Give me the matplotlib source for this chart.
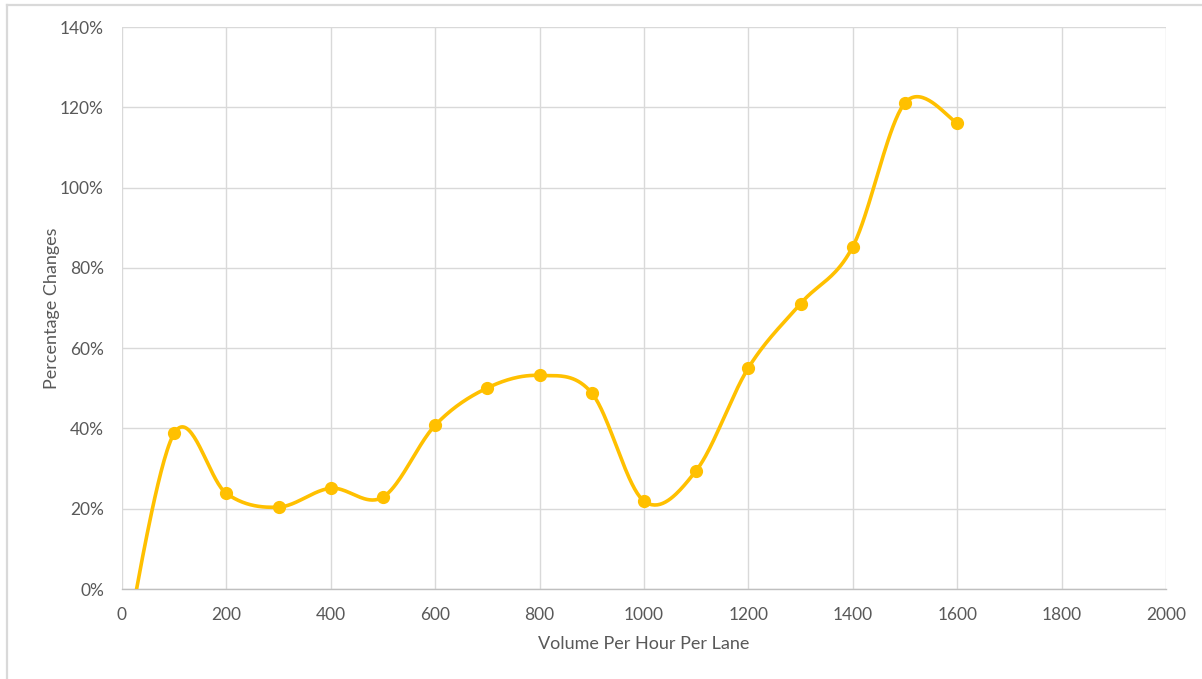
import numpy as np
import matplotlib
matplotlib.use("Agg")
import matplotlib.pyplot as plt
from matplotlib.lines import Line2D

# Percentage change by traffic volume
volume = [0, 100, 200, 300, 400, 500, 600, 700, 800, 900, 1000,
          1100, 1200, 1300, 1400, 1500, 1600]
pct_change = [-0.19, 0.388, 0.238, 0.204, 0.251, 0.229, 0.408, 0.501, 0.532,
              0.488, 0.219, 0.295, 0.551, 0.711, 0.853, 1.211, 1.161]

x_ticks = [0, 200, 400, 600, 800, 1000, 1200, 1400, 1600, 1800, 2000]
y_ticks = [0.0, 0.2, 0.4, 0.6, 0.8, 1.0, 1.2, 1.4]

LINE_COLOR = "#FFC000"
GRID_COLOR = "#D9D9D9"
TEXT_COLOR = "#595959"
FONT = "Lato"


def smooth_curve(xs, ys, steps=40):
    """Catmull-Rom style smoothing drawn as cubic Bezier segments."""
    xs = np.asarray(xs, float)
    ys = np.asarray(ys, float)
    n = len(xs)
    out_x, out_y = [], []
    t = np.linspace(0, 1, steps)
    for i in range(n - 1):
        p0 = np.array([xs[max(i - 1, 0)], ys[max(i - 1, 0)]])
        p1 = np.array([xs[i], ys[i]])
        p2 = np.array([xs[i + 1], ys[i + 1]])
        p3 = np.array([xs[min(i + 2, n - 1)], ys[min(i + 2, n - 1)]])
        c1 = p1 + (p2 - p0) / 6.0
        c2 = p2 - (p3 - p1) / 6.0
        b = ((1 - t) ** 3)[:, None] * p1 + (3 * (1 - t) ** 2 * t)[:, None] * c1 \
            + (3 * (1 - t) * t ** 2)[:, None] * c2 + (t ** 3)[:, None] * p2
        out_x.extend(b[:, 0])
        out_y.extend(b[:, 1])
    return np.array(out_x), np.array(out_y)


W, H = 1202, 679
fig = plt.figure(figsize=(W / 100, H / 100), dpi=100)
fig.patch.set_facecolor("white")

# chart area frame
fig.add_artist(Line2D([7 / W, 7 / W], [0, 1 - 5 / H], color=GRID_COLOR, lw=1.6))
fig.add_artist(Line2D([7 / W, 1], [1 - 5 / H, 1 - 5 / H], color=GRID_COLOR, lw=1.6))

ax = fig.add_axes([122 / W, 1 - 589 / H, (1166 - 122) / W, (589 - 27) / H])

sx, sy = smooth_curve(volume, pct_change)
ax.plot(sx, sy, color=LINE_COLOR, lw=2.6, solid_capstyle="round", zorder=3)
ax.plot(volume, pct_change, linestyle="none", marker="o", ms=8.5,
        color=LINE_COLOR, zorder=4)

ax.set_xlim(0, 2000)
ax.set_ylim(0, 1.4)
ax.set_xticks(x_ticks)
ax.set_yticks(y_ticks)
ax.set_xticklabels([str(v) for v in x_ticks])
ax.set_yticklabels([f"{int(round(v * 100))}%" for v in y_ticks])

ax.grid(True, color=GRID_COLOR, lw=1.0)
ax.set_axisbelow(True)
for side in ("top", "right", "left"):
    ax.spines[side].set_visible(False)
ax.spines["bottom"].set_color("#BFBFBF")
ax.spines["bottom"].set_linewidth(1.0)
ax.tick_params(length=0, colors=TEXT_COLOR, labelsize=12.5)
ax.tick_params(axis="x", pad=13)
ax.tick_params(axis="y", pad=13)
for lab in ax.get_xticklabels() + ax.get_yticklabels():
    lab.set_fontfamily(FONT)

ax.set_xlabel("Volume Per Hour Per Lane", fontsize=13, color=TEXT_COLOR,
              family=FONT, labelpad=9)
ax.set_ylabel("Percentage Changes", fontsize=13, color=TEXT_COLOR,
              family=FONT, labelpad=0)

fig.savefig("out.png", dpi=100, facecolor="white")
